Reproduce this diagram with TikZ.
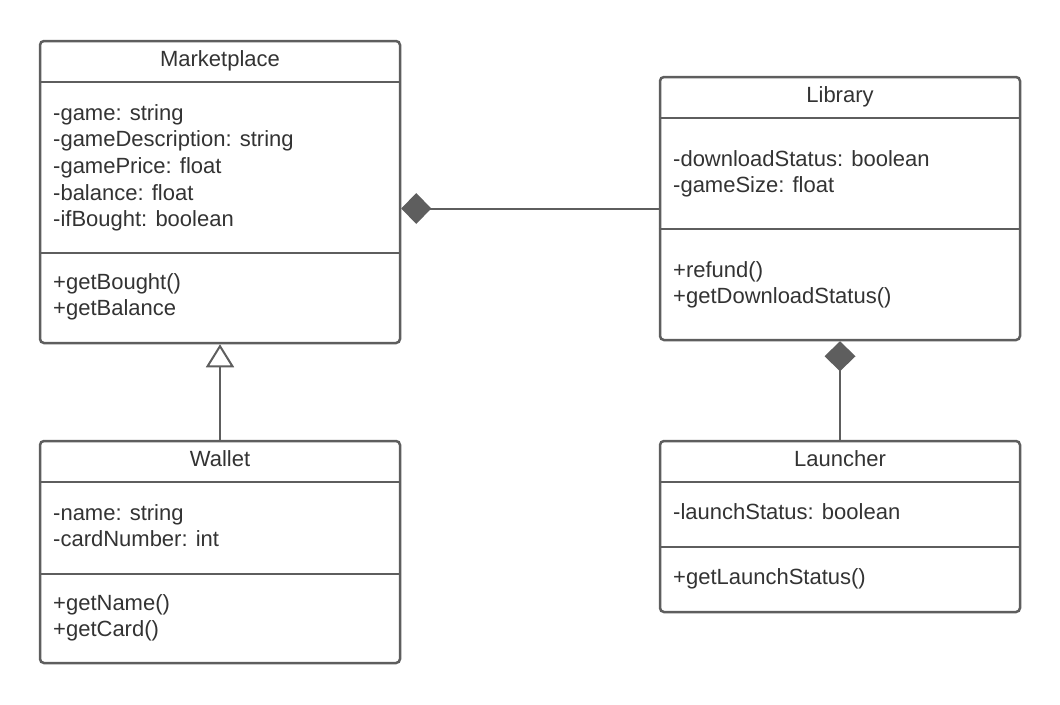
\documentclass[tikz,border=0pt]{standalone}
\usepackage{fontspec}
\setmainfont{Liberation Sans}
\usetikzlibrary{arrows.meta}
\definecolor{ln}{HTML}{5E5E5E}
\definecolor{tx}{HTML}{333333}
\begin{document}
\begin{tikzpicture}[x=1pt,y=-1pt,
  cls/.style={draw=ln, line width=2.5pt, rounded corners=4pt, fill=white, minimum width=360pt, inner sep=0pt},
  div/.style={draw=ln, line width=2.5pt},
  txt/.style={text=tx, inner sep=0pt, align=left, anchor=base west, font=\fontsize{22}{26.7}\selectfont},
  ttl/.style={text=tx, inner sep=0pt, anchor=base, font=\fontsize{22}{26.7}\selectfont},
  comp/.style={draw=ln, line width=2pt, -{Diamond[length=30pt,width=31pt,fill=ln]}},
  inh/.style={draw=ln, line width=2pt, -{Triangle[open,length=23pt,width=28pt,fill=white]}}
]
\useasboundingbox (0,0) rectangle (1060,704);
% boxes
\node[cls, minimum height=302pt] (market) at (220,192) {};
\node[cls, minimum height=263pt] (library) at (840,208.5) {};
\node[cls, minimum height=222pt] (wallet) at (220,552) {};
\node[cls, minimum height=171pt] (launcher) at (840,526.5) {};
% dividers
\draw[div] (market.west |- 0,82) -- (market.east |- 0,82);
\draw[div] (market.west |- 0,253) -- (market.east |- 0,253);
\draw[div] (library.west |- 0,118) -- (library.east |- 0,118);
\draw[div] (library.west |- 0,229) -- (library.east |- 0,229);
\draw[div] (wallet.west |- 0,482) -- (wallet.east |- 0,482);
\draw[div] (wallet.west |- 0,574) -- (wallet.east |- 0,574);
\draw[div] (launcher.west |- 0,482) -- (launcher.east |- 0,482);
\draw[div] (launcher.west |- 0,547) -- (launcher.east |- 0,547);
% titles
\node[ttl] (markettitle) at (220,66) {Marketplace};
\node[ttl] (librarytitle) at (840,102) {Library};
\node[ttl] (wallettitle) at (220,466) {Wallet};
\node[ttl] (launchertitle) at (840,466) {Launcher};
% attributes and methods (anchored at the baseline of the last line)
\node[txt] (marketattr) at (53,226.8) {-game: string\\-gameDescription: string\\-gamePrice: float\\-balance: float\\-ifBought: boolean};
\node[txt] (marketops) at (53,315.7) {+getBought()\\+getBalance};
\node[txt] (libraryattr) at (673,192.7) {-downloadStatus: boolean\\-gameSize: float};
\node[txt] (libraryops) at (673,303.7) {+refund()\\+getDownloadStatus()};
\node[txt] (walletattr) at (53,546.7) {-name: string\\-cardNumber: int};
\node[txt] (walletops) at (53,636.7) {+getName()\\+getCard()};
\node[txt] (launcherattr) at (673,519.5) {-launchStatus: boolean};
\node[txt] (launcherops) at (673,584) {+getLaunchStatus()};
% connectors
\draw[comp] (library.west) -- (library.west -| market.east);
\draw[comp] (launcher.north) -- (library.south);
\draw[inh] (wallet.north) -- (market.south);
\end{tikzpicture}
\end{document}
